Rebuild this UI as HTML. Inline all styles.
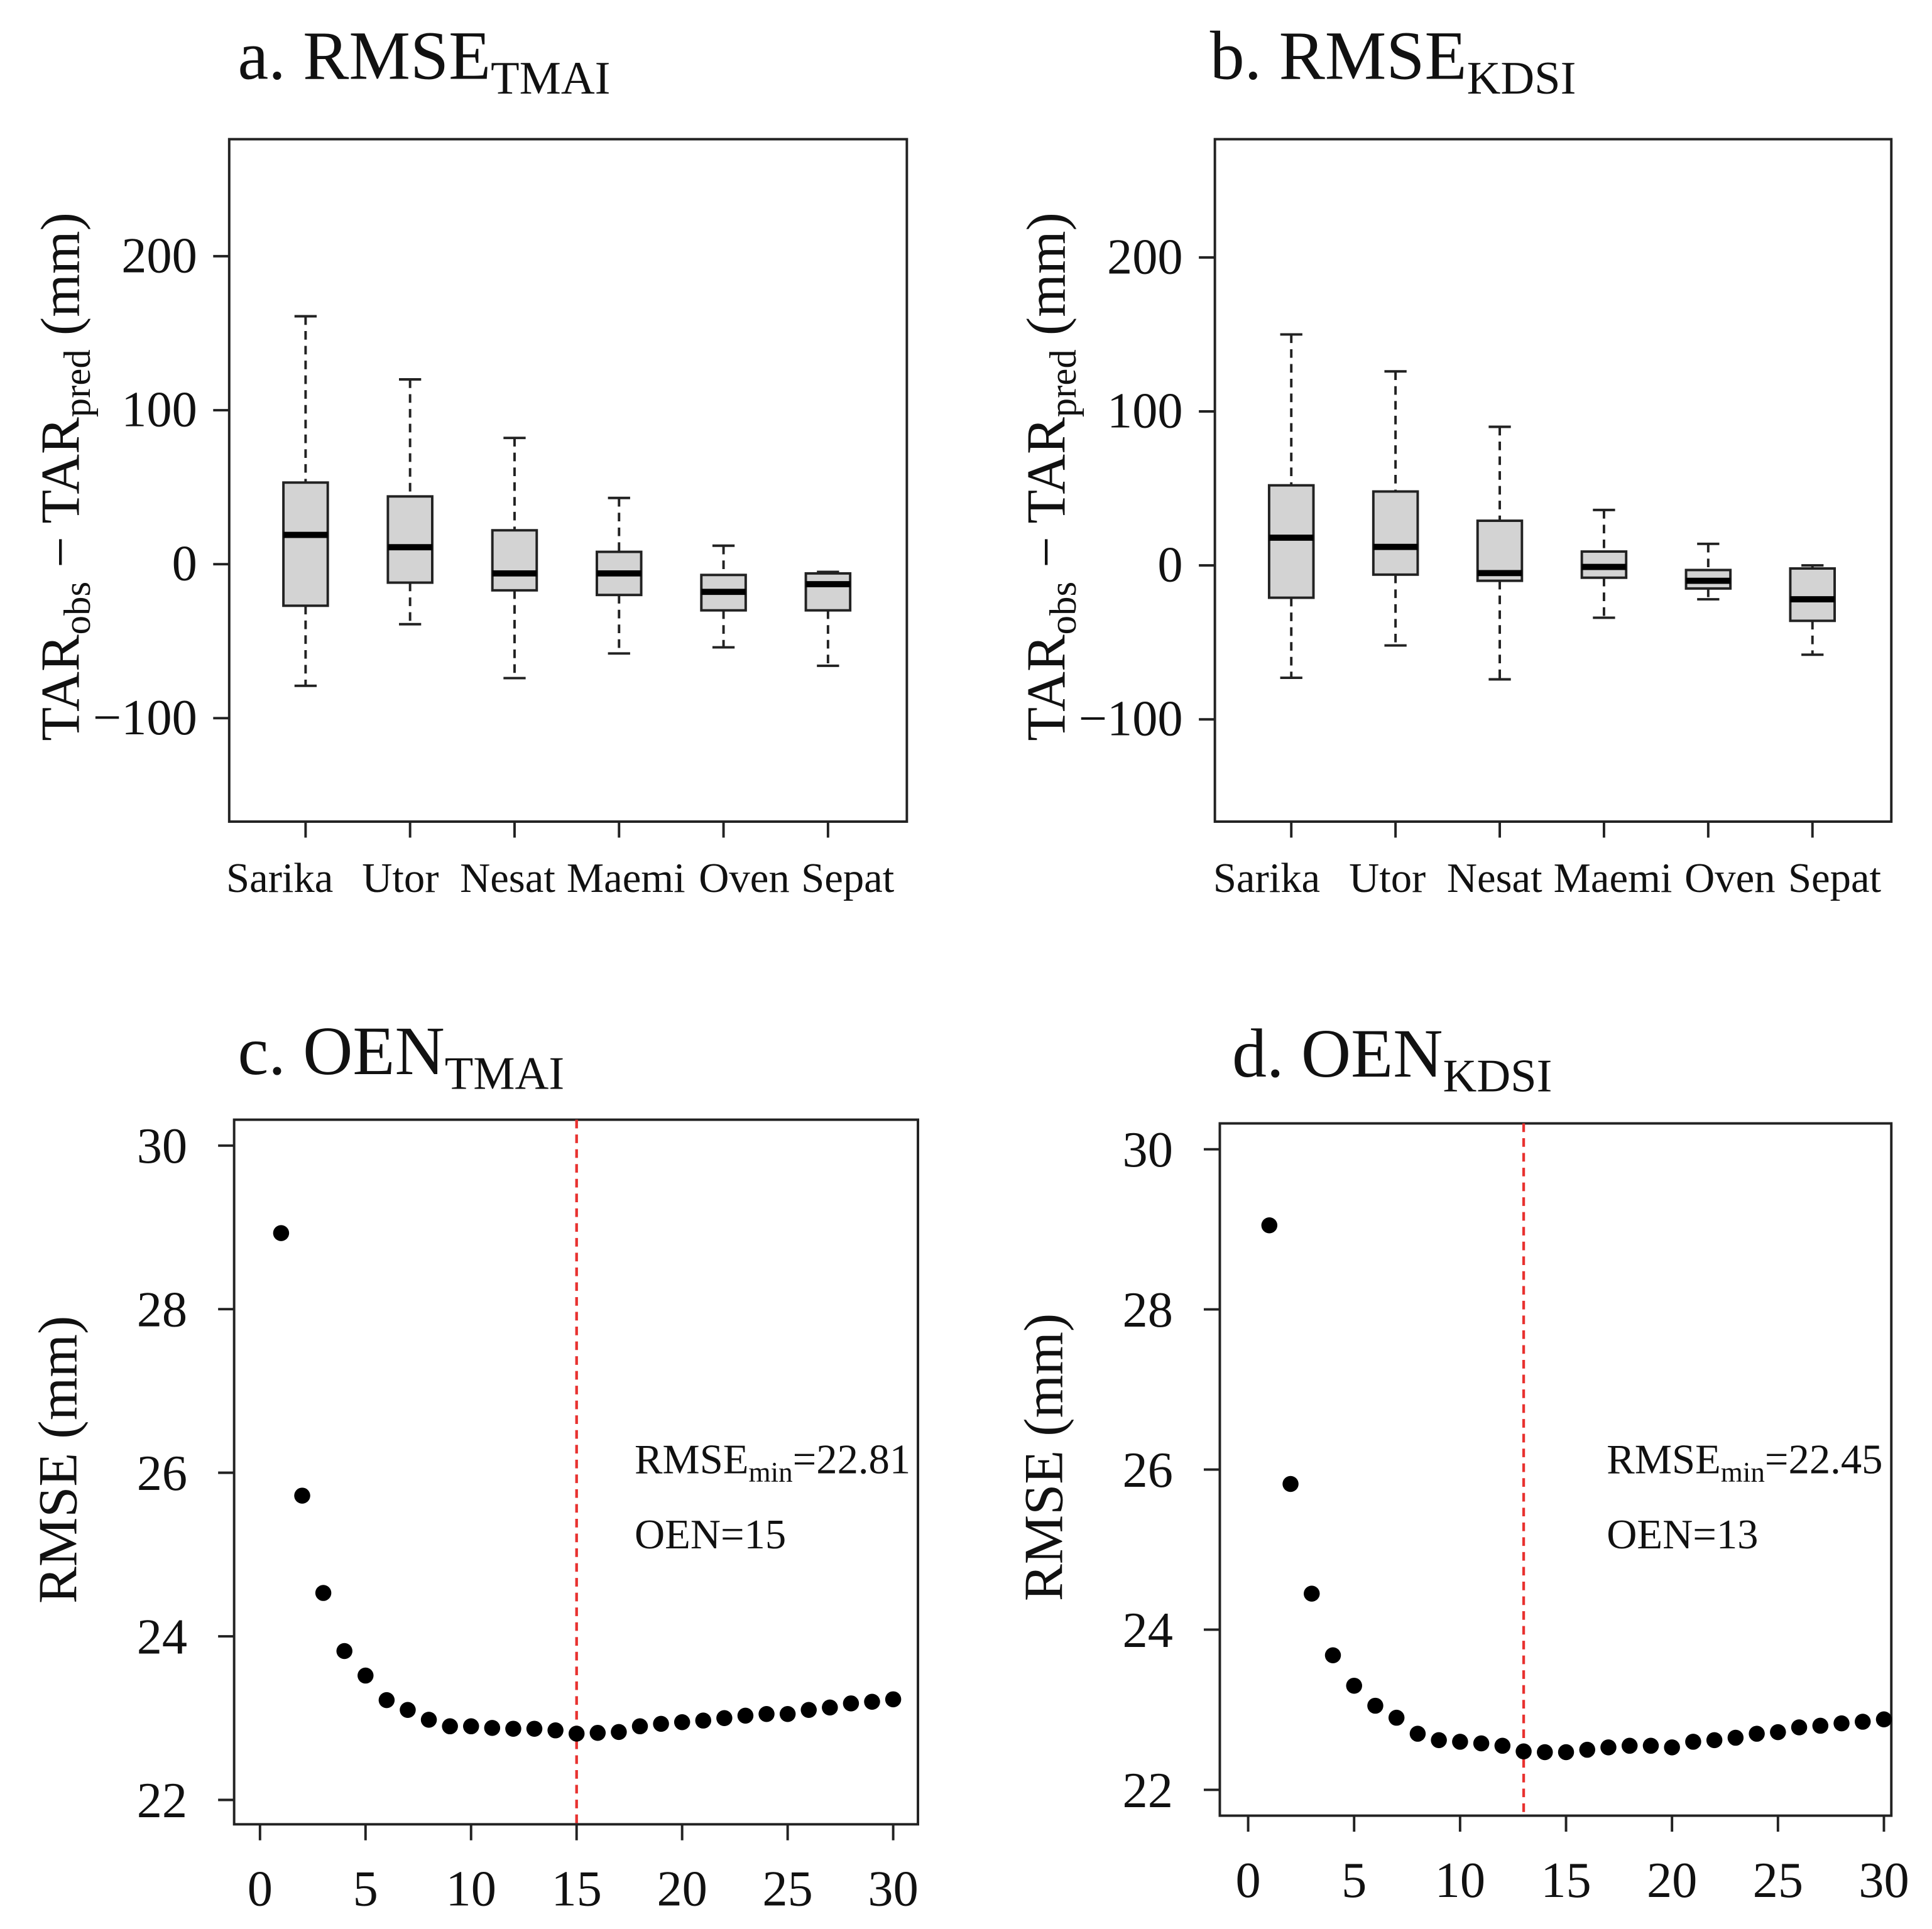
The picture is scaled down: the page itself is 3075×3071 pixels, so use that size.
<!DOCTYPE html>
<html><head><meta charset="utf-8"><style>
html,body{margin:0;padding:0;background:#fff}
svg{display:block}
text{font-family:"Liberation Serif",serif;fill:#111}
</style></head><body>
<svg id="c" width="3075" height="3071" viewBox="0 0 1568 1566" xmlns="http://www.w3.org/2000/svg"></svg>
<script>
const cats=["Sarika","Utor","Nesat","Maemi","Oven","Sepat"];
const aLow=[-79,-39,-74,-58,-54,-66];
const aQ1=[-27,-12,-17,-20,-30,-30];
const aMed=[19,11,-6,-6,-18,-13];
const aQ3=[53,44,22,8,-7,-6];
const aHigh=[161,120,82,43,12,-5];
const bLow=[-73,-52,-74,-34,-22,-58];
const bQ1=[-21,-6,-10,-8,-15,-36];
const bMed=[18,12,-5,-1,-10,-22];
const bQ3=[52,48,29,9,-3,-2];
const bHigh=[150,126,90,36,14,0];
const boxTicks=[-100,0,100,200];
const cX=[1,2,3,4,5,6,7,8,9,10,11,12,13,14,15,16,17,18,19,20,21,22,23,24,25,26,27,28,29,30];
const cY=[28.93,25.72,24.53,23.82,23.52,23.22,23.1,22.98,22.9,22.9,22.88,22.87,22.87,22.85,22.81,22.82,22.83,22.9,22.93,22.95,22.97,23.0,23.03,23.05,23.05,23.1,23.13,23.18,23.2,23.23];
const dY=[29.05,25.82,24.45,23.68,23.3,23.05,22.9,22.7,22.62,22.6,22.58,22.55,22.48,22.47,22.47,22.5,22.53,22.55,22.55,22.53,22.6,22.62,22.65,22.7,22.72,22.78,22.8,22.83,22.85,22.88];
const rmseTicks=[22,24,26,28,30];
const xTicks=[0,5,10,15,20,25,30];
const oenC=15, oenD=13;
const NS="http://www.w3.org/2000/svg";
const svg=document.getElementById('c');
function el(t,a,p){const e=document.createElementNS(NS,t);for(const k in a)e.setAttribute(k,a[k]);(p||svg).appendChild(e);return e;}
function title(x,y,main,sub,name){const t=el('text',{x:x,y:y,'font-size':56});
 const s1=el('tspan',{},t);s1.textContent=main;const s2=el('tspan',{'font-size':38,dy:12},t);s2.textContent=sub;}
function boxPanel(o){
 const g=el('g',{});
 const Y=v=>o.y0-v*o.k; const X=i=>o.x1+i*o.dx;
 const fr=el('rect',{x:o.L,y:o.T,width:o.R-o.L,height:o.B-o.T,fill:'none',stroke:'#222','stroke-width':2},g);
 
 boxTicks.forEach(v=>{el('line',{x1:o.L-13,x2:o.L,y1:Y(v),y2:Y(v),stroke:'#222','stroke-width':2},g);
  const t=el('text',{x:o.L-26,y:Y(v)+13,'font-size':41,'text-anchor':'end'},g);t.textContent=(v<0?'\u2212':'')+Math.abs(v);
  });
 cats.forEach((c,i)=>{const x=X(i);
  el('line',{x1:x,x2:x,y1:o.B,y2:o.B+13,stroke:'#222','stroke-width':2},g);
  const t=el('text',{x:o.lx[i],y:o.B+57,'font-size':34,'text-anchor':'middle'},g);t.textContent=c;
  
  const b=el('g',{},g);
  el('line',{x1:x,x2:x,y1:Y(o.hi[i]),y2:Y(o.q3[i]),stroke:'#222','stroke-width':2,'stroke-dasharray':'7,5'},b);
  el('line',{x1:x,x2:x,y1:Y(o.q1[i]),y2:Y(o.lo[i]),stroke:'#222','stroke-width':2,'stroke-dasharray':'7,5'},b);
  el('line',{x1:x-9,x2:x+9,y1:Y(o.hi[i]),y2:Y(o.hi[i]),stroke:'#222','stroke-width':2},b);
  el('line',{x1:x-9,x2:x+9,y1:Y(o.lo[i]),y2:Y(o.lo[i]),stroke:'#222','stroke-width':2},b);
  el('rect',{x:x-18,y:Y(o.q3[i]),width:36,height:Y(o.q1[i])-Y(o.q3[i]),fill:'#d3d3d3',stroke:'#222','stroke-width':2},b);
  el('line',{x1:x-18,x2:x+18,y1:Y(o.med[i]),y2:Y(o.med[i]),stroke:'#000','stroke-width':5},b);
 });
 const yl=el('text',{transform:`translate(${o.L-122},${(o.T+o.B)/2-3}) rotate(-90)`,'font-size':45,'text-anchor':'middle'},g);
 
 yl.innerHTML='TAR<tspan font-size="31" dy="9">obs</tspan><tspan dy="-9"> \u2212 TAR</tspan><tspan font-size="31" dy="9">pred</tspan><tspan dy="-9"> (mm)</tspan>';
}
function dotPanel(o){
 const g=el('g',{});
 const Y=v=>o.y30+(30-v)*o.ky; const X=v=>o.x0+v*o.kx;
 const fr=el('rect',{x:o.L,y:o.T,width:o.R-o.L,height:o.B-o.T,fill:'none',stroke:'#222','stroke-width':2},g);
 
 rmseTicks.forEach(v=>{el('line',{x1:o.L-13,x2:o.L,y1:Y(v),y2:Y(v),stroke:'#222','stroke-width':2},g);
  const t=el('text',{x:o.L-38,y:Y(v)+14,'font-size':41,'text-anchor':'end'},g);t.textContent=v;
  });
 xTicks.forEach(v=>{el('line',{x1:X(v),x2:X(v),y1:o.B,y2:o.B+13,stroke:'#222','stroke-width':2},g);
  const t=el('text',{x:X(v),y:o.B+66,'font-size':41,'text-anchor':'middle'},g);t.textContent=v;
  });
 const rl=el('line',{x1:X(o.oen),x2:X(o.oen),y1:o.T,y2:o.B,stroke:'#e8312f','stroke-width':2.2,'stroke-dasharray':'7,5'},g);
 
 cX.forEach((x,i)=>{const p=el('circle',{cx:X(x),cy:Y(o.ys[i]),r:6.5,fill:'#000'},g);
  });
 const a1=el('text',{x:o.ax,y:1196,'font-size':34},g);
 a1.innerHTML='RMSE<tspan font-size="23" dy="7">min</tspan><tspan dy="-7">='+o.rm+'</tspan>';
 const a2=el('text',{x:o.ax,y:1257,'font-size':34},g);
 a2.textContent='OEN='+o.oen;
 const yl=el('text',{transform:`translate(${o.L-128},${(o.T+o.B)/2-10}) rotate(-90)`,'font-size':45,'text-anchor':'middle'},g);
 yl.textContent='RMSE (mm)';
}
title(193,64,'a. RMSE','TMAI','title-a');
title(982,64,'b. RMSE','KDSI','title-b');
title(193,872,'c. OEN','TMAI','title-c');
title(1000,874,'d. OEN','KDSI','title-d');
boxPanel({name:'panel-a',L:186,R:736,T:113,B:667,y0:458,k:1.25,x1:248,dx:84.8,lx:[227,325,412,508,604,688],lo:aLow,q1:aQ1,med:aMed,q3:aQ3,hi:aHigh});
boxPanel({name:'panel-b',L:986,R:1535,T:113,B:667,y0:459,k:1.25,x1:1048,dx:84.6,lx:[1028,1126,1213,1309,1404,1489],lo:bLow,q1:bQ1,med:bMed,q3:bQ3,hi:bHigh});
dotPanel({name:'panel-c',L:190,R:745,T:909,B:1481,y30:930,ky:66.4,x0:211,kx:17.13,ys:cY,oen:oenC,rm:'22.81',ax:515});
dotPanel({name:'panel-d',L:990,R:1535,T:912,B:1474,y30:933,ky:65,x0:1013,kx:17.2,ys:dY,oen:oenD,rm:'22.45',ax:1304});
</script>
</body></html>
